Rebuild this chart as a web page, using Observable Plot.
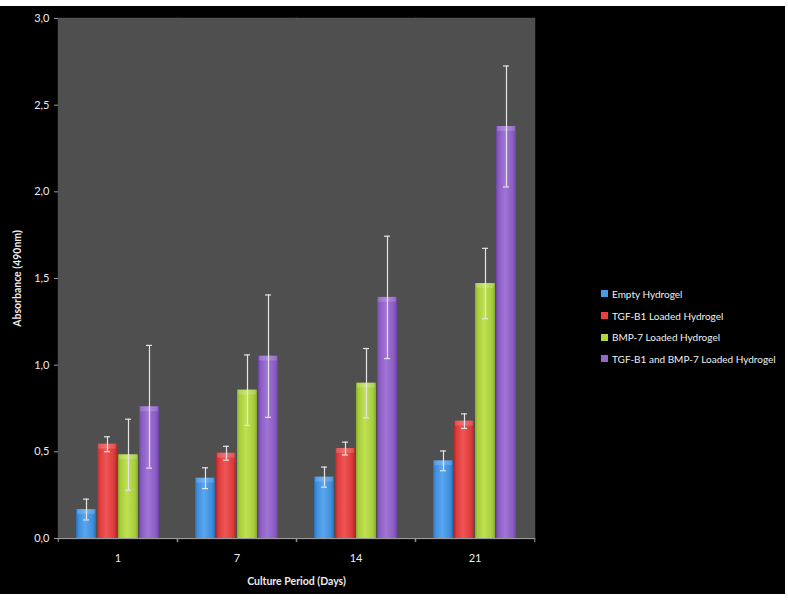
<!DOCTYPE html>
<html><head><meta charset="utf-8">
<script src="https://cdn.jsdelivr.net/npm/d3@7"></script>
<script src="https://cdn.jsdelivr.net/npm/@observablehq/plot@0.6"></script>
<style>
html,body{margin:0;padding:0;background:#fff;}
#wrap{position:absolute;left:0;top:6px;width:785px;height:588px;background:#000;overflow:hidden;}
#chart{position:absolute;left:0;top:0;}
#legend{position:absolute;left:601px;top:277px;width:184px;white-space:nowrap;}
#legend .lg-swatch{height:21.7px;padding:0 !important;margin:0 !important;display:flex;align-items:center;white-space:nowrap;}
#legend .lg-swatch svg{margin-right:4px !important;}
#legend .lg-swatches{margin:0 !important;}
</style></head><body><div id="wrap"><div id="chart"></div><div id="legend"></div></div>
<script>
const days = ["1", "7", "14", "21"];
const series = ["Empty Hydrogel", "TGF-B1 Loaded Hydrogel", "BMP-7 Loaded Hydrogel", "TGF-B1 and BMP-7 Loaded Hydrogel"];
const emptyVals = [0.167, 0.348, 0.354, 0.448];
const emptyErr  = [0.060, 0.060, 0.058, 0.057];
const tgfVals   = [0.544, 0.492, 0.519, 0.677];
const tgfErr    = [0.043, 0.040, 0.037, 0.042];
const bmpVals   = [0.483, 0.856, 0.896, 1.471];
const bmpErr    = [0.205, 0.203, 0.200, 0.203];
const bothVals  = [0.760, 1.052, 1.391, 2.377];
const bothErr   = [0.354, 0.353, 0.353, 0.349];
const yTicks = [0, 0.5, 1.0, 1.5, 2.0, 2.5, 3.0];
const swatchColors = ["#4a9be6", "#e8403f", "#b2d641", "#9566cc"];
// [dark edge, mid, light] per series for the glossy gradient
const gradColors = [
  ["#2b6cb4", "#3f8edc", "#58a6ee"],
  ["#b02828", "#dc3b3b", "#ef5555"],
  ["#86ab2a", "#a7cc3c", "#bfe152"],
  ["#6b44a2", "#8a5cc2", "#a075d6"]
];

const valueSets = [emptyVals, tgfVals, bmpVals, bothVals];
const errSets = [emptyErr, tgfErr, bmpErr, bothErr];
const rows = [];
series.forEach((s, si) => days.forEach((d, di) => rows.push({
  day: d, series: s, si, value: valueSets[si][di], err: errSets[si][di]
})));

const W = 785, H = 588, mL = 57, mR = 250, mT = 12, mB = 56;
const halfBand = (W - mL - mR) / days.length / 2;
const axisGray = "#9a9a9a";
const textCol = "#ececec";
const plotBg = "#4f4f4f";
const fmt = d => d.toFixed(1).replace(".", ",");

const chart = Plot.plot({
  width: W, height: H,
  marginLeft: mL, marginRight: mR, marginTop: mT, marginBottom: mB,
  style: {background: "transparent", color: textCol, fontFamily: "Lato, 'Open Sans', sans-serif", fontSize: "11px"},
  fx: {domain: days, padding: 0, label: null},
  x: {domain: series, paddingInner: 0.05, paddingOuter: 0.78, axis: null},
  y: {domain: [0, 3], label: null},
  color: {type: "identity"},
  marks: [
    Plot.frame({fill: plotBg, stroke: plotBg, strokeWidth: 1.5}),
    Plot.barY(rows, {fx: "day", x: "series", y: "value", fill: d => `url(#grad${d.si})`}),
    Plot.barY(rows, {fx: "day", x: "series", y1: d => d.value - 0.028, y2: "value", fill: "#ffffff", fillOpacity: 0.16, insetLeft: 1, insetRight: 1}),
    Plot.ruleX(rows, {fx: "day", x: "series", y1: d => d.value - d.err, y2: d => d.value + d.err, stroke: "#e4e4e4", strokeWidth: 1.2}),
    Plot.tickY(rows, {fx: "day", x: "series", y: d => d.value - d.err, stroke: "#e4e4e4", strokeWidth: 1.2, insetLeft: 7, insetRight: 7}),
    Plot.tickY(rows, {fx: "day", x: "series", y: d => d.value + d.err, stroke: "#e4e4e4", strokeWidth: 1.2, insetLeft: 7, insetRight: 7}),
    Plot.ruleY([0], {stroke: axisGray, strokeWidth: 1.2}),
    Plot.axisY({ticks: yTicks, tickFormat: fmt, tickSize: 4, tickPadding: 5, stroke: axisGray, line: true, label: null}),
    Plot.axisY({ticks: [], tickSize: 0, label: "Absorbance (490nm)", labelAnchor: "center", labelArrow: "none", labelOffset: 45, fontWeight: "bold", fontSize: 10.5}),
    Plot.axisFx({anchor: "bottom", tickSize: 0, tickPadding: 16, label: null}),
    Plot.axisFx({anchor: "bottom", tickSize: 0, tickFormat: () => "", label: "Culture Period (Days)", labelAnchor: "center", labelArrow: "none", labelOffset: 46, fontWeight: "bold", fontSize: 10.5}),
    Plot.axisFx({anchor: "bottom", tickSize: 4, tickFormat: () => "", stroke: axisGray, dx: -halfBand, label: null}),
    Plot.axisFx({anchor: "bottom", tickSize: 4, tickFormat: () => "", stroke: axisGray, dx: halfBand, label: null})
  ]
});

// gradient definitions for the glossy bars
const svg = d3.select(chart.tagName.toLowerCase() === "svg" ? chart : chart.querySelector("svg"));
const defs = svg.insert("defs", ":first-child");
gradColors.forEach((c, i) => {
  const g = defs.append("linearGradient").attr("id", `grad${i}`).attr("x1", 0).attr("x2", 1).attr("y1", 0).attr("y2", 0);
  [[0, c[0]], [0.12, c[1]], [0.45, c[2]], [0.85, c[1]], [1, c[0]]].forEach(([o, col]) =>
    g.append("stop").attr("offset", o).attr("stop-color", col));
});
document.getElementById("chart").append(chart);

const legend = Plot.legend({
  color: {domain: series, range: swatchColors},
  legend: "swatches", columns: 1, swatchSize: 7, className: "lg",
  style: {color: "#f0f0f0", fontFamily: "Lato, 'Open Sans', sans-serif", fontSize: "10px", background: "transparent"}
});
document.getElementById("legend").append(legend);
</script>
</body></html>
